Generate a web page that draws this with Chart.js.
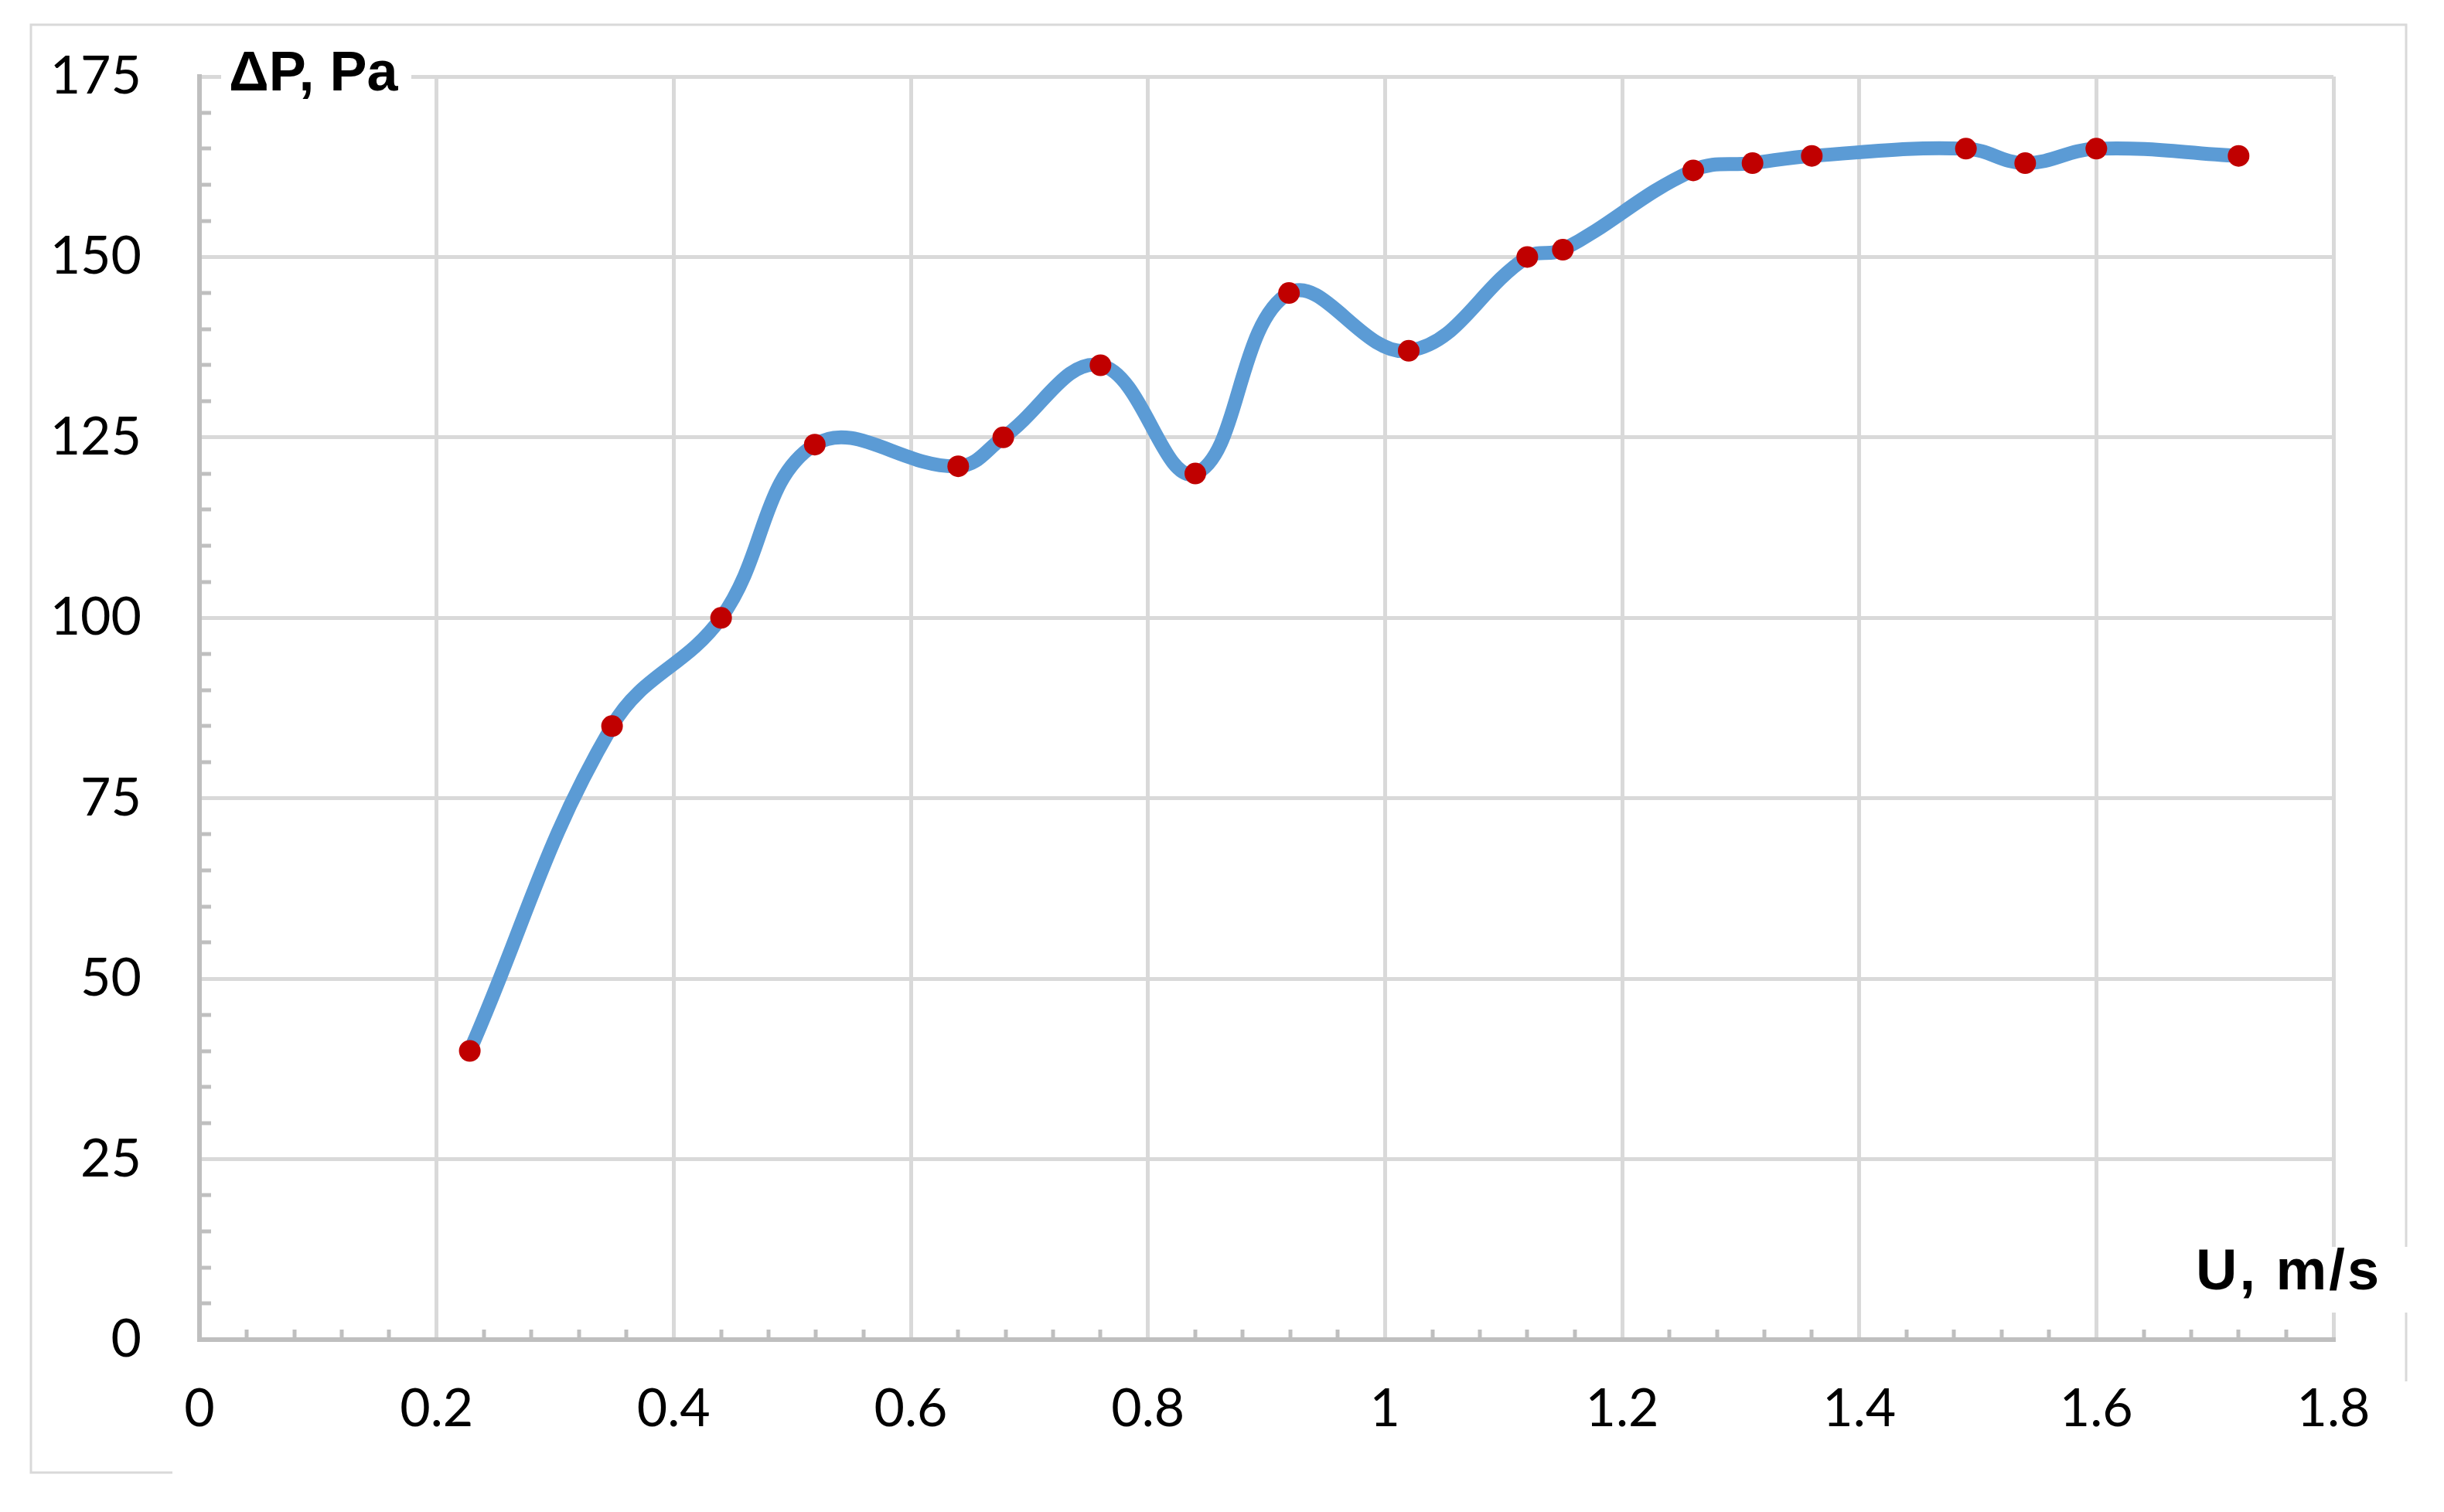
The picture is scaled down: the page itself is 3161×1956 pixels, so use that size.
<!DOCTYPE html>
<html>
<head>
<meta charset="utf-8">
<title>Pressure drop vs velocity</title>
<script src="https://cdn.jsdelivr.net/npm/chart.js@4/dist/chart.umd.min.js"></script>
<style>
    html, body { margin: 0; padding: 0; background: #fff; }
    #wrap { width: 3161px; height: 1956px; position: relative; }
</style>
</head>
<body>
<div id="wrap"><canvas id="dpChart"></canvas></div>
<script>
// measured points: U (m/s) and pressure drop (Pa)
const velocity = [0.228, 0.348, 0.44, 0.519, 0.64, 0.678, 0.76, 0.84, 0.919, 1.02,
                  1.12, 1.15, 1.26, 1.31, 1.36, 1.49, 1.54, 1.6, 1.72];
const pressureDrop = [40, 85, 100, 124, 121, 125, 135, 120, 145, 137,
                      150, 151, 162, 163, 164, 165, 163, 165, 164];

const xTickLabels = ['0', '0.2', '0.4', '0.6', '0.8', '1', '1.2', '1.4', '1.6', '1.8'];
const yTickLabels = ['0', '25', '50', '75', '100', '125', '150', '175'];

const xTitle = 'U, m/s';
const yTitle = '\u0394P, Pa';

const GRID = '#D9D9D9';
const AXIS = '#BFBFBF';

// minor tick marks + outer frame + the two axis titles (Excel style)
const decorPlugin = {
    id: 'decor',
    beforeDatasetsDraw(chart) {
        const ctx = chart.ctx;
        const x = chart.scales.x;
        const y = chart.scales.y;
        const area = chart.chartArea;
        ctx.save();
        ctx.strokeStyle = AXIS;
        ctx.lineWidth = 5;
        ctx.beginPath();
        for (let v = 5; v < 175; v += 5) {
            if (v % 25 === 0) continue;
            const py = Math.round(y.getPixelForValue(v));
            ctx.moveTo(area.left, py);
            ctx.lineTo(area.left + 15, py);
        }
        for (let i = 1; i < 45; i++) {
            if (i % 5 === 0) continue;
            const px = Math.round(x.getPixelForValue(i * 0.04));
            ctx.moveTo(px, area.bottom);
            ctx.lineTo(px, area.bottom - 13);
        }
        ctx.stroke();
        ctx.restore();
    },
    afterDraw(chart) {
        const ctx = chart.ctx;
        ctx.save();

        // outer frame (partly cut away in the original)
        ctx.strokeStyle = GRID;
        ctx.lineWidth = 3;
        ctx.beginPath();
        ctx.moveTo(223, 1905);
        ctx.lineTo(40, 1905);
        ctx.lineTo(40, 32);
        ctx.lineTo(3112, 32);
        ctx.lineTo(3112, 1787);
        ctx.stroke();

        // y title
        ctx.fillStyle = '#fff';
        ctx.fillRect(286, 45, 246, 90);
        ctx.fillStyle = '#000';
        ctx.font = 'bold 72px "Liberation Sans", Arial, sans-serif';
        ctx.textAlign = 'left';
        ctx.textBaseline = 'alphabetic';
        ctx.fillText(yTitle, 296, 117);

        // x title
        ctx.fillStyle = '#fff';
        ctx.fillRect(2825, 1613, 300, 85);
        ctx.fillStyle = '#000';
        ctx.font = 'bold 74px "Liberation Sans", Arial, sans-serif';
        ctx.letterSpacing = '3px';
        ctx.fillText(xTitle, 2840, 1668);
        ctx.restore();
    }
};

const tickFont = { family: 'Lato, "Open Sans", sans-serif', size: 68 };

new Chart(document.getElementById('dpChart'), {
    type: 'scatter',
    data: {
        datasets: [{
            data: velocity.map((u, i) => ({ x: u, y: pressureDrop[i] })),
            showLine: true,
            tension: 0.4,
            borderColor: '#5B9BD5',
            borderWidth: 18,
            borderCapStyle: 'round',
            borderJoinStyle: 'round',
            pointRadius: 14,
            pointBackgroundColor: '#C00000',
            pointBorderWidth: 0,
            clip: false
        }]
    },
    options: {
        responsive: true,
        maintainAspectRatio: false,
        animation: false,
        layout: { padding: { left: 0, top: 99, right: 143, bottom: 0 } },
        plugins: {
            legend: { display: false },
            tooltip: { enabled: false }
        },
        scales: {
            x: {
                type: 'linear',
                min: 0,
                max: 1.8,
                afterFit: (scale) => { scale.height = 223; },
                grid: { color: GRID, lineWidth: 5, drawTicks: false },
                border: { display: true, color: AXIS, width: 6 },
                ticks: {
                    stepSize: 0.2,
                    padding: 49,
                    color: '#000',
                    font: tickFont,
                    maxRotation: 0,
                    callback: (value, index) => xTickLabels[index]
                }
            },
            y: {
                type: 'linear',
                min: 0,
                max: 175,
                // fixed axis box; drop the label padding so the plot top stays put
                afterFit: (scale) => {
                    scale.width = 258;
                    scale.paddingTop = 0;
                    scale.paddingBottom = 0;
                },
                grid: { color: GRID, lineWidth: 5, drawTicks: false },
                border: { display: true, color: AXIS, width: 6 },
                ticks: {
                    stepSize: 25,
                    padding: 75,
                    color: '#000',
                    font: tickFont,
                    callback: (value, index) => yTickLabels[index]
                }
            }
        }
    },
    plugins: [decorPlugin]
});
</script>
</body>
</html>
